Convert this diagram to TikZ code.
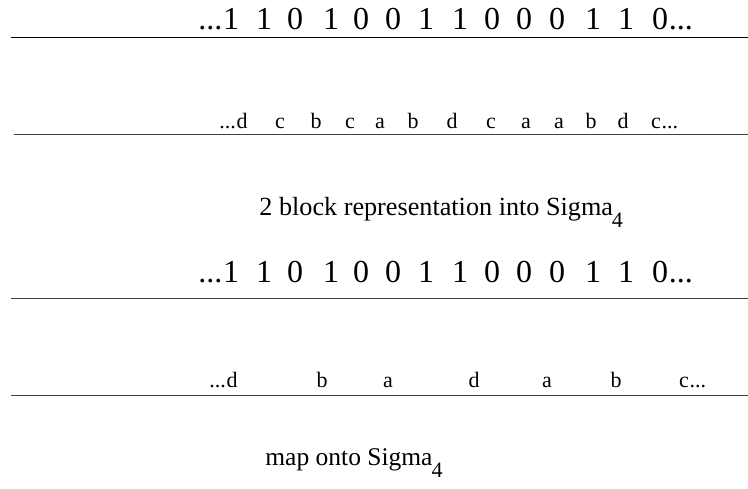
\documentclass[tikz,border=0pt]{standalone}
\usepackage{fontspec}
\setmainfont{Liberation Serif}

\tikzset{every picture/.style={line width=0.75pt}}
\tikzset{
  bit/.style={anchor=base, inner sep=0pt, font=\fontsize{32}{32}\selectfont},
  sym/.style={anchor=base, inner sep=0pt, font=\fontsize{22}{22}\selectfont},
  caption/.style={anchor=base west, inner sep=0pt, font=\fontsize{25.5}{26}\selectfont},
  rule/.style={line width=1pt}
}
\newcommand{\subfour}{\kern-1pt\raisebox{-12pt}{\fontsize{22}{22}\selectfont 4}}

\begin{document}
\begin{tikzpicture}[x=1pt,y=1pt,yscale=-1,xscale=1]
		\useasboundingbox (0,0) rectangle (748,489);
		
		%Straight Lines
		\coordinate (la) at (11,38);  \coordinate (ra) at (748,38);
		\coordinate (lb) at (14,135); \coordinate (rb) at (748,135);
		\coordinate (lc) at (11,299); \coordinate (rc) at (748,299);
		\coordinate (ld) at (11,396); \coordinate (rd) at (748,396);
		\draw [rule] (la) -- (ra);
		\draw [rule, black!75] (lb) -- (rb);
		\draw [rule, black!75] (lc) -- (rc);
		\draw [rule, black!75] (ld) -- (rd);
		
		%Binary strings
		\foreach \r/\y in {a/30, c/283}{
			\foreach \x/\d [count=\i] in {231/1,264/1,295/0,331/1,361/0,393/0,426/1,460/1,492/0,524/0,557/0,593/1,626/1,660/0}
				\node [bit] (\r\i) at (\x,\y) {\d};
			\node [bit, anchor=base east] (\r L) at (\r1.base west) {...};
			\node [bit, anchor=base west] (\r R) at (\r14.base east) {...};
		}
		
		%2 block symbols
		\foreach \x/\s [count=\i] in {242/d,280/c,316/b,350/c,380/a,413/b,452/d,491/c,526/a,559/a,591/b,623/d,656/c}
			\node [sym] (b\i) at (\x,129) {\s};
		\node [sym, anchor=base east] (bL) at (b1.base west) {...};
		\node [sym, anchor=base west] (bR) at (b13.base east) {...};
		
		%mapped symbols
		\foreach \x/\s [count=\i] in {232/d,322/b,388/a,474/d,547/a,616/b,684/c}
			\node [sym] (d\i) at (\x,388) {\s};
		\node [sym, anchor=base east] (dL) at (d1.base west) {...};
		\node [sym, anchor=base west] (dR) at (d7.base east) {...};
		
		\node [caption, font=\fontsize{26.2}{27}\selectfont] (rep) at (259,216) {2 block representation into Sigma\subfour};
		\node [caption] (map) at (265,465) {map onto Sigma\subfour};
		
	\end{tikzpicture}
\end{document}
